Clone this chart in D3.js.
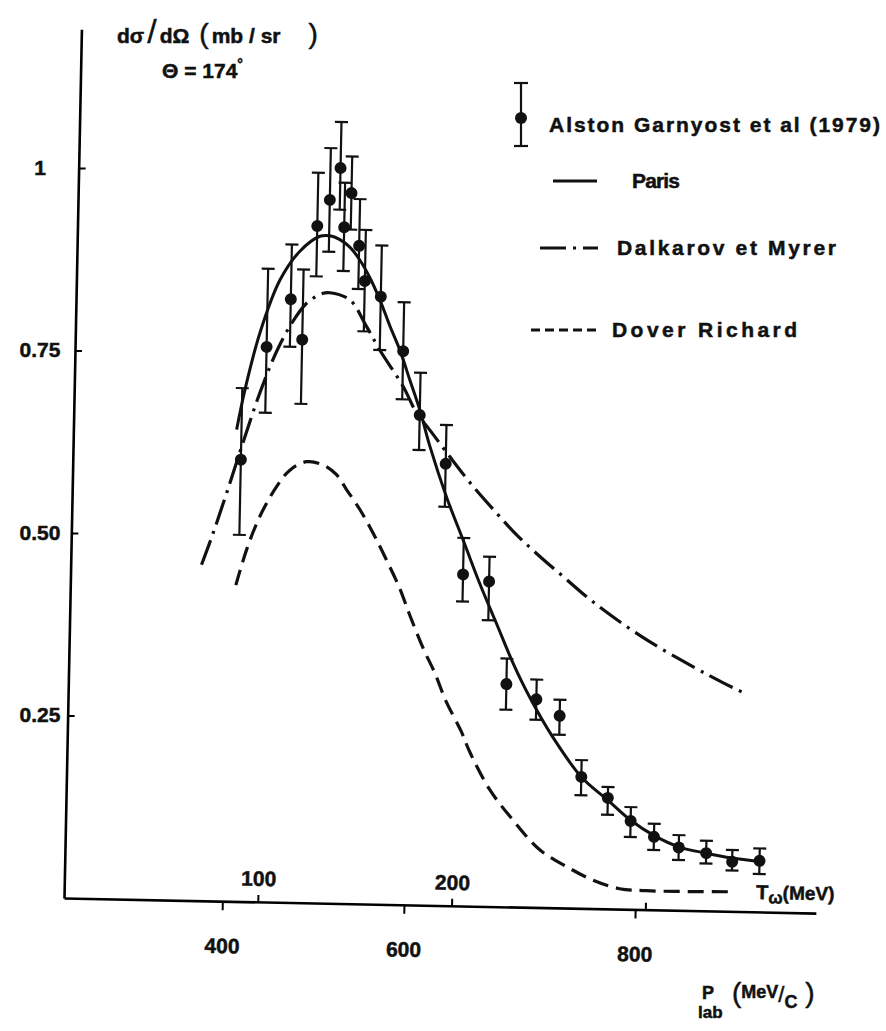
<!DOCTYPE html>
<html>
<head>
<meta charset="utf-8">
<script src="https://cdn.jsdelivr.net/npm/d3@7/dist/d3.min.js"></script>
<style>
  body { margin: 0; background: #fff; }
  svg text { font-family: "Liberation Sans", Arial, sans-serif; font-weight: bold; fill: #111; stroke: #111; stroke-width: 0.5; }
</style>
</head>
<body>
<svg id="chart" width="886" height="1031"></svg>
<script>
/*************************
 *  data
 *  x is the kinetic energy T (MeV), y is dsigma/dOmega (mb/sr)
*************************/
const dataT  = [86.7, 98.8, 110.8, 117.1, 123.7, 129.9, 135.1, 137.6, 141.0, 145.5, 148.8, 157.2, 169.3, 178.5,
                192.4, 202.5, 216.0, 226.0, 241.6, 253.8, 265.6, 279.5, 291.5, 303.7, 316.6, 330.8, 344.3, 358.4]
const dataY  = [0.605, 0.760, 0.826, 0.771, 0.927, 0.963, 1.007, 0.926, 0.973, 0.901, 0.853, 0.832, 0.758, 0.671,
                0.605, 0.454, 0.445, 0.305, 0.285, 0.263, 0.180, 0.152, 0.121, 0.100, 0.086, 0.079, 0.068, 0.070]
const dataHi = [0.703, 0.867, 0.901, 0.867, 1.000, 1.034, 1.070, 0.987, 1.023, 0.965, 0.923, 0.902, 0.825, 0.729,
                0.658, 0.504, 0.479, 0.340, 0.312, 0.285, 0.203, 0.167, 0.140, 0.118, 0.103, 0.096, 0.084, 0.087]
const dataLo = [0.502, 0.670, 0.761, 0.683, 0.858, 0.892, 0.950, 0.866, 0.923, 0.842, 0.784, 0.759, 0.692, 0.623,
                0.546, 0.417, 0.392, 0.270, 0.257, 0.237, 0.155, 0.129, 0.099, 0.082, 0.069, 0.065, 0.056, 0.052]

// Paris potential
const parisT = [84.2, 88.1, 95.2, 105, 115, 125.2, 130.3, 135.5, 140.7, 145.9, 151.3, 156.7, 162.2, 167.5, 173, 178.5,
                184, 193.1, 202.5, 211.2, 220.2, 229.2, 238.1, 250.4, 265.6, 279.5, 291.5, 303.6, 316.6, 330.8, 344.3, 358.4]
const parisY = [0.646, 0.701, 0.779, 0.852, 0.892, 0.913, 0.914, 0.909, 0.899, 0.882, 0.858, 0.828, 0.792, 0.760, 0.719, 0.678,
                0.629, 0.560, 0.499, 0.442, 0.388, 0.334, 0.288, 0.234, 0.180, 0.149, 0.122, 0.102, 0.087, 0.079, 0.073, 0.069]

// Dalkarov et Myrer
const dalkT = [67.5, 73.2, 79.7, 87, 95.8, 104, 110.6, 119, 127.4, 130.9, 141.2, 150.1, 157.2, 169.6, 176.8, 183.8,
               194.4, 206.7, 219.1, 229.6, 241.8, 255, 269.8, 295.1, 322, 337.6, 350.6]
const dalkY = [0.460, 0.504, 0.559, 0.623, 0.697, 0.754, 0.789, 0.821, 0.835, 0.836, 0.827, 0.791, 0.759, 0.710, 0.674, 0.651,
               0.615, 0.575, 0.539, 0.510, 0.481, 0.452, 0.420, 0.374, 0.334, 0.313, 0.297]

// Dover Richard
const doverT = [85.4, 90.6, 97.1, 105.4, 112.1, 120.6, 129.2, 136.2, 141.5, 148.6, 155.7, 162.8, 170, 175.4, 183,
                189, 195, 203, 208, 218.5, 230.8, 244.9, 258.8, 272.6, 286.5, 300.3, 322.6, 345.8]
const doverY = [0.433, 0.482, 0.528, 0.569, 0.592, 0.604, 0.600, 0.587, 0.567, 0.540, 0.508, 0.472, 0.433, 0.397, 0.350,
                0.318, 0.280, 0.240, 0.210, 0.160, 0.119, 0.079, 0.057, 0.039, 0.028, 0.026, 0.026, 0.027]

const yTicks = [0.25, 0.5, 0.75, 1]
const yTickLabels = ["0.25", "0.50", "0.75", "1"]
const tTicks = [100, 200, 300]
const tTickLabels = ["100", "200", ""]
const pTicks = [400, 600, 800]
const pTickLabels = ["400", "600", "800"]

const legendLabels = ["Alston  Garnyost et al (1979)", "Paris", "Dalkarov et Myrer", "Dover  Richard"]

/*************************
 *  scales, the scan is tilted a little so the plot is rotated
*************************/
const PROTON_MASS = 938.27
const kinetic = p => Math.sqrt(p * p + PROTON_MASS * PROTON_MASS) - PROTON_MASS

const origin = [64, 898]
const tilt = 1.15

const x = d3.scaleLinear().domain([0, 388]).range([0, 752])
const y = d3.scaleLinear().domain([0, 1.19]).range([0, -869])

const rad = tilt * Math.PI / 180
const toPage = (lx, ly) => [origin[0] + lx * Math.cos(rad) - ly * Math.sin(rad),
                            origin[1] + lx * Math.sin(rad) + ly * Math.cos(rad)]

const svg = d3.select('#chart')

const plot = svg.append('g')
    .attr('id', 'plotG')
    .attr('transform', `translate(${origin[0]},${origin[1]}) rotate(${tilt})`)

/*************************
 *  axes
*************************/
plot.append('g')
    .attr('id', 'yAxis')
    .call(d3.axisRight(y).tickValues(yTicks).tickSize(7).tickSizeOuter(0).tickFormat(''))
    .call(g => g.select('.domain').attr('stroke-width', 2.6))
    .call(g => g.selectAll('.tick line').attr('stroke-width', 2))

plot.append('g')
    .attr('id', 'tAxis')
    .call(d3.axisTop(x).tickValues(tTicks).tickSize(7).tickSizeOuter(0).tickPadding(9)
        .tickFormat((d, i) => tTickLabels[i]))
    .call(g => g.select('.domain').attr('stroke-width', 2.6))
    .call(g => g.selectAll('.tick line').attr('stroke-width', 2))
    .call(g => g.selectAll('text').attr('font-size', 21).attr('fill', '#111'))

plot.append('g')
    .attr('id', 'pAxis')
    .call(d3.axisBottom(x).tickValues(pTicks.map(kinetic)).tickSize(9).tickPadding(28)
        .tickFormat((d, i) => pTickLabels[i]))
    .call(g => g.select('.domain').remove())
    .call(g => g.selectAll('.tick line').attr('stroke-width', 2))
    .call(g => g.selectAll('text').attr('font-size', 21).attr('fill', '#111'))

// y tick labels sit in a straight column on the page
svg.append('g')
    .attr('id', 'yLabels')
    .selectAll('text')
    .data(yTicks)
    .join('text')
    .attr('x', 40)
    .attr('y', d => toPage(0, y(d))[1] + 7)
    .attr('text-anchor', 'middle')
    .attr('font-size', 21)
    .text((d, i) => yTickLabels[i])

/*************************
 *  curves
*************************/
const line = d3.line()
    .x(d => x(d[0]))
    .y(d => y(d[1]))
    .curve(d3.curveCatmullRom.alpha(0.5))

const curves = [
    {id: 'paris', pts: d3.zip(parisT, parisY), dash: null, w: 3},
    {id: 'dalkarov', pts: d3.zip(dalkT, dalkY), dash: '26,7,3,7', w: 3.2},
    {id: 'dover', pts: d3.zip(doverT, doverY), dash: '16,8', w: 3.2}
]

plot.append('g')
    .attr('id', 'curveG')
    .selectAll('path')
    .data(curves)
    .join('path')
    .attr('id', d => d.id)
    .attr('d', d => line(d.pts))
    .attr('fill', 'none')
    .attr('stroke', '#111')
    .attr('stroke-width', d => d.w)
    .attr('stroke-dasharray', d => d.dash)

/*************************
 *  data points with error bars
*************************/
const pts = dataT.map((t, i) => ({t: t, v: dataY[i], hi: dataHi[i], lo: dataLo[i]}))

const ptG = plot.append('g').attr('id', 'pointsG')
    .selectAll('.pt')
    .data(pts)
    .join('g')
    .attr('class', 'pt')

ptG.append('line')
    .attr('x1', d => x(d.t)).attr('x2', d => x(d.t))
    .attr('y1', d => y(d.hi)).attr('y2', d => y(d.lo))
    .attr('stroke', '#111').attr('stroke-width', 2.2)

ptG.selectAll('.cap')
    .data(d => [[d.t, d.hi], [d.t, d.lo]])
    .join('line')
    .attr('class', 'cap')
    .attr('x1', d => x(d[0]) - 6.5).attr('x2', d => x(d[0]) + 6.5)
    .attr('y1', d => y(d[1])).attr('y2', d => y(d[1]))
    .attr('stroke', '#111').attr('stroke-width', 2.2)

ptG.append('circle')
    .attr('cx', d => x(d.t))
    .attr('cy', d => y(d.v))
    .attr('r', 6)
    .attr('fill', '#111')

/*************************
 *  axis titles
*************************/
const tLabel = plot.append('text')
    .attr('x', x(357))
    .attr('y', -13)
    .attr('font-size', 20)
tLabel.append('tspan').text('T')
tLabel.append('tspan').attr('font-size', 17).attr('dy', 4).text('ω')
tLabel.append('tspan').attr('font-size', 19).attr('dy', -4).text('(MeV)')

const yTitle = svg.append('text')
    .attr('x', 117).attr('y', 43)
    .attr('font-size', 21)
yTitle.append('tspan').text('dσ')
yTitle.append('tspan').attr('font-size', 34).attr('font-weight', 'normal').attr('stroke-width', 0.3)
    .attr('dx', 3).text('/')
yTitle.append('tspan').attr('dx', 3).text('dΩ')
yTitle.append('tspan').attr('font-size', 28).attr('font-weight', 'normal').attr('dx', 10).text('(')
yTitle.append('tspan').attr('dx', 3).text('mb / sr')
yTitle.append('tspan').attr('font-size', 28).attr('font-weight', 'normal').attr('dx', 28).text(')')

const thetaLabel = svg.append('text')
    .attr('x', 162).attr('y', 78)
    .attr('font-size', 21)
thetaLabel.append('tspan').text('Θ = 174')
thetaLabel.append('tspan').attr('font-size', 14).attr('dy', -9).text('°')

const pLabel = svg.append('g').attr('id', 'pLabel')
pLabel.append('text').attr('x', 702).attr('y', 999).attr('font-size', 18).text('P')
pLabel.append('text').attr('x', 698).attr('y', 1018).attr('font-size', 17).text('lab')
const pUnit = pLabel.append('text').attr('x', 732).attr('y', 1002).attr('font-size', 18)
pUnit.append('tspan').attr('font-size', 28).attr('font-weight', 'normal').text('(')
pUnit.append('tspan').attr('dy', -4).text('MeV')
pUnit.append('tspan').attr('font-size', 22).attr('font-weight', 'normal').attr('dy', 4).text('/')
pUnit.append('tspan').attr('dy', 6).text('C')
pUnit.append('tspan').attr('font-size', 28).attr('font-weight', 'normal').attr('dy', -6).text(' )')

/*************************
 *  legend
*************************/
const legend = svg.append('g').attr('id', 'legendG')

legend.append('line').attr('x1', 521).attr('x2', 521).attr('y1', 83).attr('y2', 146)
    .attr('stroke', '#111').attr('stroke-width', 2.2)
legend.selectAll('.lcap').data([83, 146]).join('line').attr('class', 'lcap')
    .attr('x1', 514).attr('x2', 528).attr('y1', d => d).attr('y2', d => d)
    .attr('stroke', '#111').attr('stroke-width', 2.2)
legend.append('circle').attr('cx', 521).attr('cy', 118).attr('r', 6).attr('fill', '#111')

const legendRows = [
    {x1: 553, x2: 597, y: 181, dash: null},
    {x1: 540, x2: 598, y: 248, dash: '26,7,3,7'},
    {x1: 531, x2: 598, y: 330, dash: '9,5'}
]
legend.selectAll('.lline').data(legendRows).join('line').attr('class', 'lline')
    .attr('x1', d => d.x1).attr('x2', d => d.x2).attr('y1', d => d.y).attr('y2', d => d.y)
    .attr('stroke', '#111').attr('stroke-width', 3)
    .attr('stroke-dasharray', d => d.dash)

const legendText = [
    {x: 549, y: 132, len: 331},
    {x: 632, y: 188, len: 48},
    {x: 617, y: 255, len: 219},
    {x: 612, y: 337, len: 185}
]
legend.selectAll('.ltext').data(legendText).join('text').attr('class', 'ltext')
    .attr('x', d => d.x).attr('y', d => d.y)
    .attr('font-size', 21)
    .attr('textLength', d => d.len)
    .attr('lengthAdjust', 'spacing')
    .text((d, i) => legendLabels[i])
</script>
</body>
</html>
